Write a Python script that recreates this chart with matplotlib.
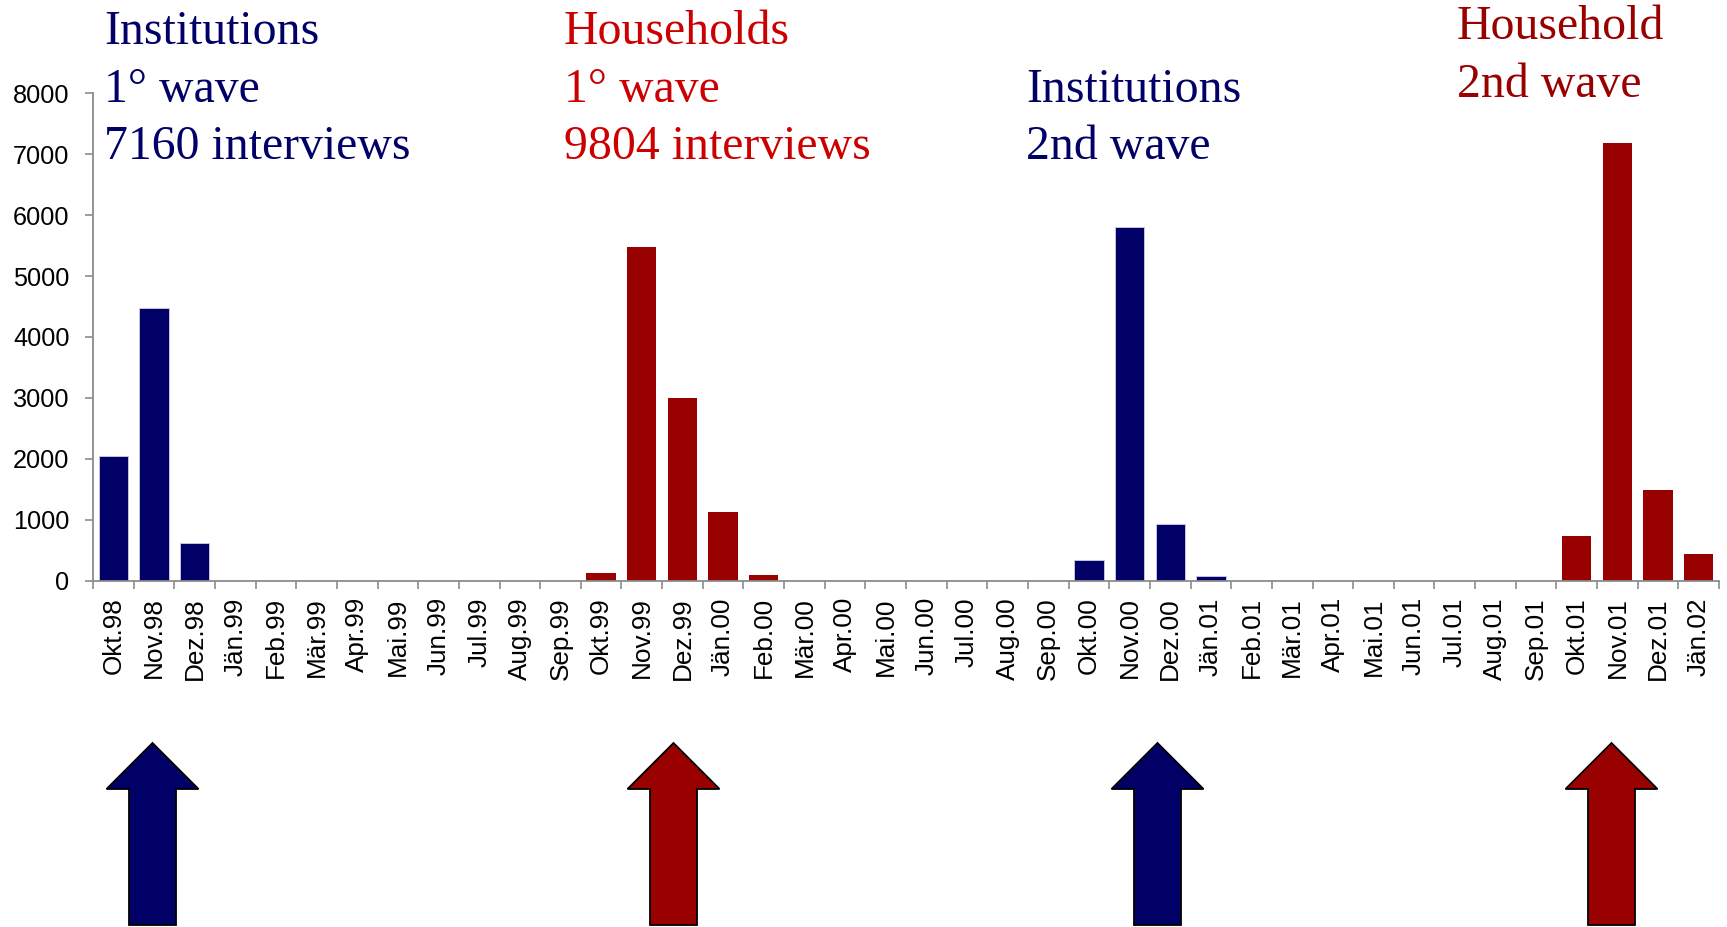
import matplotlib
matplotlib.use("Agg")
import matplotlib.pyplot as plt
from matplotlib.patches import Polygon

months = ["Okt.98", "Nov.98", "Dez.98",
          "Jän.99", "Feb.99", "Mär.99", "Apr.99", "Mai.99", "Jun.99", "Jul.99", "Aug.99", "Sep.99", "Okt.99", "Nov.99", "Dez.99",
          "Jän.00", "Feb.00", "Mär.00", "Apr.00", "Mai.00", "Jun.00", "Jul.00", "Aug.00", "Sep.00", "Okt.00", "Nov.00", "Dez.00",
          "Jän.01", "Feb.01", "Mär.01", "Apr.01", "Mai.01", "Jun.01", "Jul.01", "Aug.01", "Sep.01", "Okt.01", "Nov.01", "Dez.01",
          "Jän.02"]

institutions = [2050, 4480, 620, 0, 0, 0, 0, 0, 0, 0, 0, 0, 0, 0, 0,
                0, 0, 0, 0, 0, 0, 0, 0, 0, 330, 5810, 930,
                70, 0, 0, 0, 0, 0, 0, 0, 0, 0, 0, 0, 0]
households = [0, 0, 0, 0, 0, 0, 0, 0, 0, 0, 0, 0, 130, 5480, 3000,
              1120, 90, 0, 0, 0, 0, 0, 0, 0, 0, 0, 0,
              0, 0, 0, 0, 0, 0, 0, 0, 0, 730, 7180, 1490, 440]

yticks = [0, 1000, 2000, 3000, 4000, 5000, 6000, 7000, 8000]

NAVY = "#000066"
DARKRED = "#990000"
RED = "#CC0000"
GRAY = "#8c8c8c"

W, H = 1727, 927
fig = plt.figure(figsize=(W / 100, H / 100), dpi=100)
ax = fig.add_axes([93 / W, 1 - 580.5 / H, (1719 - 93) / W, (580.5 - 93.5) / H])

x = list(range(len(months)))
ax.bar(x, institutions, width=0.72, color=NAVY, edgecolor="#d0d0e0", linewidth=0.6)
hx = [i for i, v in enumerate(households) if v > 0]
ax.bar(hx, [households[i] for i in hx], width=0.72, color=DARKRED, linewidth=0)

ax.set_xlim(-0.5, len(months) - 0.5)
ax.set_ylim(0, 8000)
ax.set_yticks(yticks)
ax.set_yticklabels([str(v) for v in yticks], fontfamily="Liberation Sans", fontsize=18.2)
ax.set_xticks(x)
ax.set_xticklabels(months, rotation=90, fontfamily="Liberation Sans", fontsize=18.8)
ax.set_xticks([i - 0.5 for i in range(len(months) + 1)], minor=True)
ax.tick_params(axis="x", which="major", length=0, pad=12)
ax.tick_params(axis="x", which="minor", length=6, width=1.2, color=GRAY)
ax.tick_params(axis="y", length=6, width=1.2, color=GRAY, pad=11)
for s in ["top", "right"]:
    ax.spines[s].set_visible(False)
for s in ["left", "bottom"]:
    ax.spines[s].set_color(GRAY)
    ax.spines[s].set_linewidth(1.3)


def ftext(px, py, s, color):
    fig.text(px / W, 1 - py / H, s, color=color, fontsize=34.4,
             fontfamily="Liberation Serif", ha="left", va="baseline")


b1, b2, b3 = 44, 101.7, 159.3
ftext(104, b1, "Institutions", NAVY)
ftext(104, b2, "1° wave", NAVY)
ftext(104, b3, "7160 interviews", NAVY)
ftext(564, b1, "Households", RED)
ftext(564, b2, "1° wave", RED)
ftext(564, b3, "9804 interviews", RED)
ftext(1026, b2, "Institutions", NAVY)
ftext(1026, b3, "2nd wave", NAVY)
ftext(1457, 39, "Household", DARKRED)
ftext(1457, 97, "2nd wave", DARKRED)


def arrow(cx, color):
    tip, base, bottom = 743, 789, 925
    hw, sw = 46, 23.5
    pts = [(cx, tip), (cx + hw, base), (cx + sw, base), (cx + sw, bottom),
           (cx - sw, bottom), (cx - sw, base), (cx - hw, base)]
    pts = [(px / W, 1 - py / H) for px, py in pts]
    fig.patches.append(Polygon(pts, closed=True, facecolor=color, edgecolor="black",
                               linewidth=1.3, transform=fig.transFigure, figure=fig))


arrow(152.5, NAVY)
arrow(673.5, DARKRED)
arrow(1157.5, NAVY)
arrow(1611.5, DARKRED)

fig.savefig("out.png", dpi=100)
